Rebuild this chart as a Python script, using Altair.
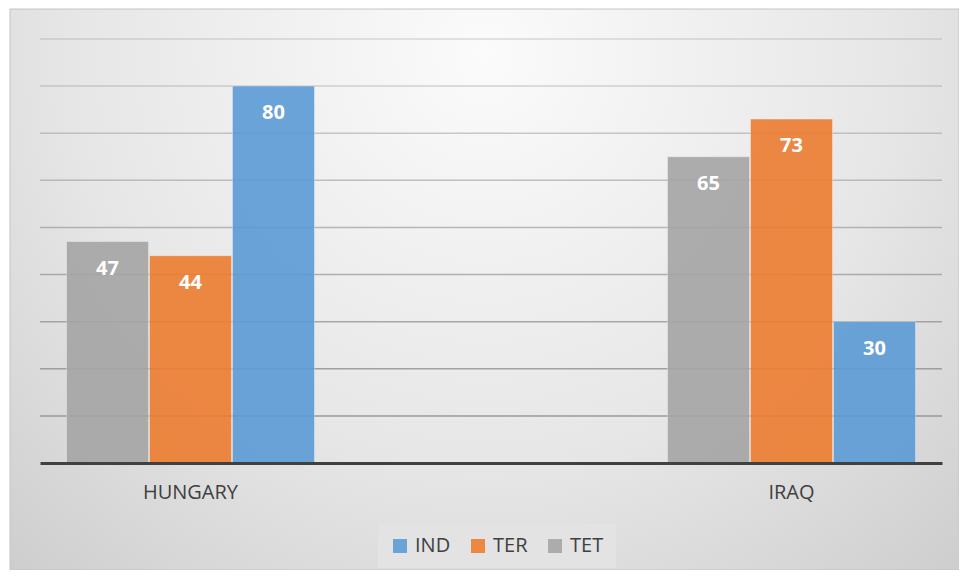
import altair as alt
import pandas as pd

countries = ["HUNGARY", "HUNGARY", "HUNGARY", "IRAQ", "IRAQ", "IRAQ"]
series = ["TET", "TER", "IND", "TET", "TER", "IND"]
values = [47, 44, 80, 65, 73, 30]

legend_order = ["IND", "TER", "TET"]
bar_order = ["TET", "TER", "IND"]
colors = ["#5b9bd5", "#ed7d31", "#a5a5a5"]
grid_values = [10, 20, 30, 40, 50, 60, 70, 80, 90]

df = pd.DataFrame({"country": countries, "series": series, "value": values})
grid_df = pd.DataFrame({"g": grid_values})
FONT = "Open Sans"

bg = alt.Chart(pd.DataFrame({"a": [0]})).mark_rect(
    fill=alt.Gradient(
        gradient="radial",
        stops=[alt.GradientStop(color="#fbfbfb", offset=0),
               alt.GradientStop(color="#e6e6e6", offset=0.55),
               alt.GradientStop(color="#c9c9c9", offset=1)],
        x1=0.5, y1=0.25, r1=0, x2=0.5, y2=0.25, r2=0.8,
    ),
    stroke="#c4c4c4", strokeWidth=1,
).encode(x=alt.value(-30), x2=alt.value(919), y=alt.value(-30), y2=alt.value(531))

yscale = alt.Scale(domain=[0, 90], nice=False)

grid = alt.Chart(grid_df).mark_rule(color="#8c8c8c", strokeWidth=1.5).encode(
    y=alt.Y("g:Q", scale=yscale, axis=None), x=alt.value(0), x2=alt.value(902),
    opacity=alt.Opacity("g:Q", scale=alt.Scale(domain=[10, 90], range=[0.85, 0.3]), legend=None))

xenc = alt.X("country:N", title=None, sort=["HUNGARY", "IRAQ"],
             scale=alt.Scale(paddingInner=0.5874, paddingOuter=0.0441),
             axis=alt.Axis(labelAngle=0, ticks=False, labelFontSize=20, labelColor="#404040",
                           labelFont=FONT, labelPadding=19, domainColor="#404040",
                           domainWidth=3, grid=False, zindex=1))
xoff = alt.XOffset("series:N", sort=bar_order, scale=alt.Scale(paddingInner=0.012, paddingOuter=0))
yenc = alt.Y("value:Q", title=None, scale=yscale, axis=None)

bars = alt.Chart(df).mark_bar(opacity=0.9, stroke="#ffffff", strokeOpacity=0.35, strokeWidth=1).encode(
    x=xenc, xOffset=xoff, y=yenc,
    color=alt.Color("series:N", sort=legend_order,
                    scale=alt.Scale(domain=legend_order, range=colors),
                    legend=alt.Legend(title=None, orient="none", legendX=338, legendY=485,
                                      direction="horizontal", symbolType="square", symbolSize=196,
                                      symbolOpacity=0.9, symbolStrokeWidth=0,
                                      labelFontSize=20, labelFont=FONT, labelColor="#404040",
                                      labelOffset=5, columnPadding=17, padding=12,
                                      fillColor="#e3e3e3")),
)

labels = alt.Chart(df).mark_text(color="white", fontWeight="bold", fontSize=20, font=FONT,
                                 baseline="middle", dy=27).encode(
    x=xenc, xOffset=xoff, y=yenc, text="value:Q")

chart = alt.layer(bg, grid, bars, labels).properties(
    width=902, height=424,
    autosize=alt.AutoSizeParams(type="none"),
    padding={"left": 32, "top": 31, "right": 17, "bottom": 107},
).configure_view(stroke=None).configure(background="white")

chart.save("out.html", embed_options={"renderer": "svg", "actions": False})
